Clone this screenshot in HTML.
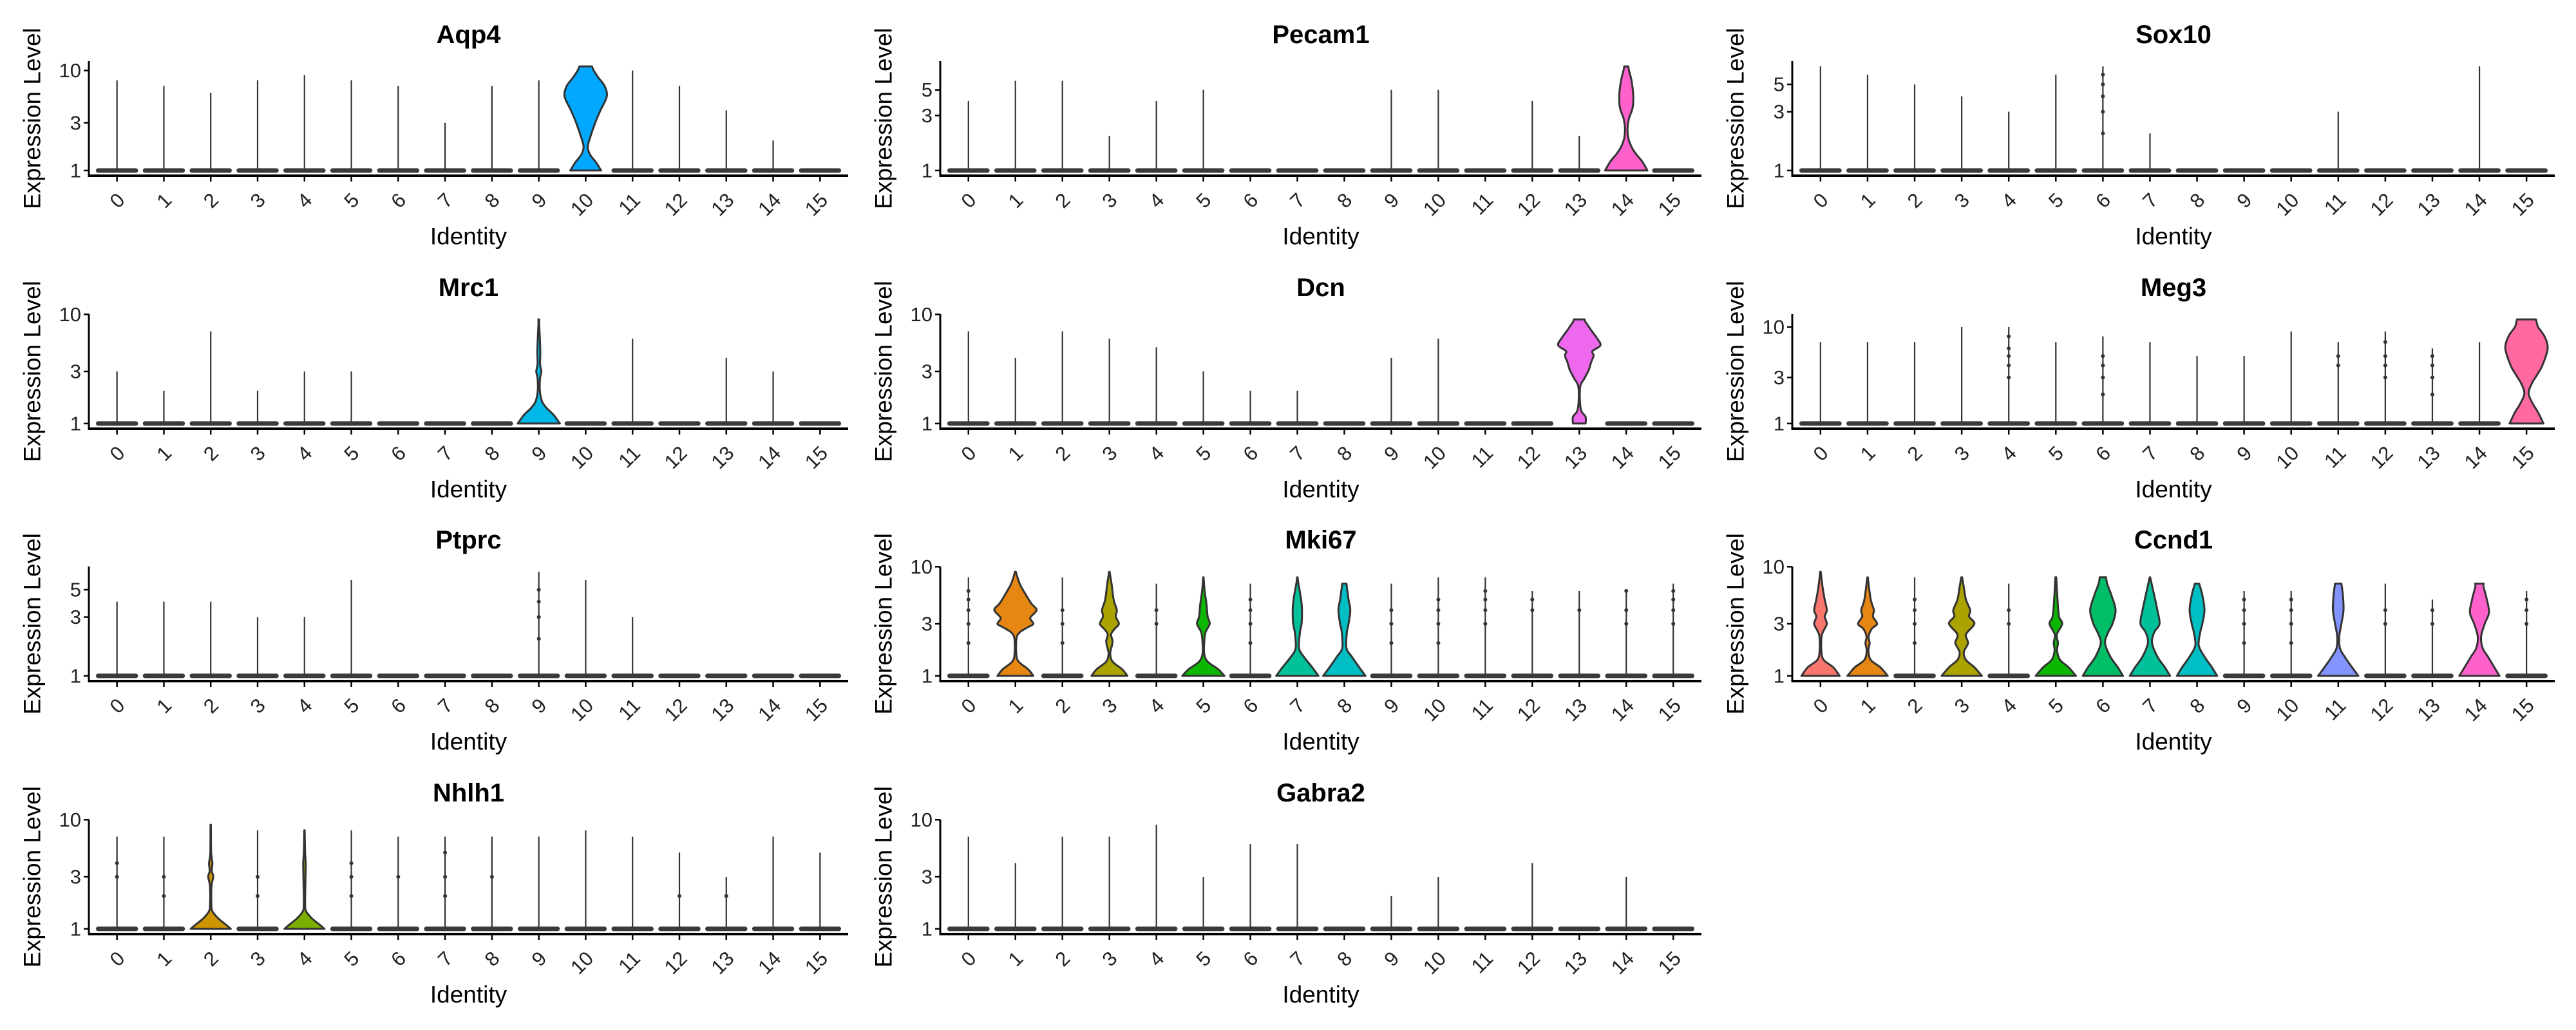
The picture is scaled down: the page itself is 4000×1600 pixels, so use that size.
<!DOCTYPE html>
<html><head><meta charset="utf-8"><style>
html,body{margin:0;padding:0;background:#fff;}
svg{display:block;font-family:"Liberation Sans",Arial,sans-serif;}
</style></head>
<body>
<svg id="fig" width="4000" height="1600" viewBox="0 0 4000 1600" xmlns="http://www.w3.org/2000/svg">
<rect x="0" y="0" width="4000" height="1600" fill="#ffffff"/>
</svg>
<script>
// ---- data ----
const CLUSTERS = ["0","1","2","3","4","5","6","7","8","9","10","11","12","13","14","15"];
const PALETTE = ["#F8766D","#E68613","#CD9600","#ABA300","#7CAE00","#0CB702","#00BE67","#00C19A","#00BFC4","#00B8E7","#00A9FF","#8494FF","#C77CFF","#ED68ED","#FF61CC","#FF68A1"];

const GENES = ["Aqp4","Pecam1","Sox10","Mrc1","Dcn","Meg3","Ptprc","Mki67","Ccnd1","Nhlh1","Gabra2"];

const AQP4_MAX   = [8,7,6,8,9,8,7,3,7,8,11,10,7,4,2,1];
const PECAM1_MAX = [4,6,6,2,4,5,1,1,1,5,5,1,4,2,8,1];
const SOX10_MAX  = [7,6,5,4,3,6,7,2,1,1,1,3,1,1,7,1];
const MRC1_MAX   = [3,2,7,2,3,3,1,1,1,9,1,6,1,4,3,1];
const DCN_MAX    = [7,4,7,6,5,3,2,2,1,4,6,1,1,9,1,1];
const MEG3_MAX   = [7,7,7,10,10,7,8,7,5,5,9,7,9,6,7,12];
const PTPRC_MAX  = [4,4,4,3,3,6,1,1,1,7,6,3,1,1,1,1];
const MKI67_MAX  = [8,9,8,9,7,8,7,8,7,7,8,8,6,6,6,7];
const CCND1_MAX  = [9,8,8,8,7,8,8,8,7,6,6,7,7,5,7,6];
const NHLH1_MAX  = [7,7,9,8,8,8,7,7,7,7,8,7,5,3,7,5];
const GABRA2_MAX = [7,4,7,7,9,3,6,6,1,2,3,1,4,1,3,1];

const TICKS_10 = [1,3,10];
const TICKS_5  = [1,3,5];

// violin profiles: [value, relative width]
const AQP4_V10 = [[1,0.73],[1.2,0.5],[1.45,0.2],[1.73,0.1],[2.1,0.2],[3,0.45],[4,0.7],[5.5,1.0],[7,0.9],[8.5,0.6],[10,0.38],[11,0.3]];
const PECAM1_V14 = [[1,1.0],[1.2,0.75],[1.4,0.45],[1.6,0.25],[1.9,0.1],[2.3,0.06],[2.8,0.12],[3.5,0.3],[4.5,0.33],[6,0.25],[7.5,0.12],[8,0.1]];
const MRC1_V9 = [[1,1.0],[1.2,0.7],[1.4,0.35],[1.6,0.15],[2,0.05],[2.6,0.06],[3,0.12],[3.5,0.06],[4.5,0.07],[6,0.05],[8,0.02],[9,0.02]];
const DCN_V13 = [[1,0.3],[1.15,0.3],[1.3,0.1],[1.6,0.03],[2.2,0.05],[2.6,0.25],[3.1,0.45],[3.6,0.55],[4.2,0.68],[4.6,0.62],[5.2,1.0],[6,0.85],[7,0.6],[8.5,0.3],[9,0.25]];
const MEG3_V15 = [[1,0.8],[1.3,0.55],[1.6,0.3],[2.05,0.1],[2.6,0.25],[3.2,0.5],[4,0.75],[6,1.0],[8,0.85],[10,0.55],[12,0.45]];
const MKI67_V1 = [[1,0.85],[1.15,0.6],[1.35,0.15],[1.6,0.04],[2.2,0.05],[2.5,0.2],[2.8,0.6],[3,0.85],[3.4,0.7],[4,1.0],[4.6,0.75],[5.5,0.5],[7,0.2],[9,0.02]];
const MKI67_V3 = [[1,0.85],[1.15,0.6],[1.35,0.15],[1.6,0.04],[1.9,0.12],[2.1,0.15],[2.4,0.08],[2.7,0.25],[3,0.45],[3.5,0.3],[4,0.35],[5,0.2],[7,0.1],[9,0.01]];
const MKI67_V5 = [[1,1.0],[1.15,0.7],[1.35,0.2],[1.6,0.04],[2,0.04],[2.5,0.1],[3,0.3],[3.5,0.2],[4.5,0.15],[6,0.06],[8,0.01]];
const MKI67_V7 = [[1,1.0],[1.2,0.7],[1.5,0.3],[1.8,0.08],[2.5,0.12],[3,0.2],[4,0.22],[5,0.18],[7,0.05],[8,0.01]];
const MKI67_V8 = [[1,1.0],[1.2,0.7],[1.5,0.35],[1.8,0.1],[2.5,0.12],[3,0.2],[4,0.28],[5,0.2],[6.5,0.12],[7,0.1]];
const CCND1_V0 = [[1,0.9],[1.2,0.6],[1.4,0.15],[1.7,0.04],[2.3,0.05],[2.6,0.15],[3,0.3],[3.5,0.2],[4,0.3],[5,0.2],[6.5,0.1],[9,0.01]];
const CCND1_V1 = [[1,0.95],[1.2,0.6],[1.4,0.15],[1.7,0.04],[2,0.1],[2.3,0.05],[2.7,0.2],[3,0.45],[3.5,0.25],[4,0.3],[5,0.15],[8,0.01]];
const CCND1_V3 = [[1,0.95],[1.2,0.6],[1.4,0.2],[1.65,0.1],[2,0.3],[2.4,0.2],[3,0.6],[3.5,0.35],[4,0.4],[5,0.2],[6.5,0.1],[8,0.02]];
const CCND1_V5 = [[1,0.95],[1.2,0.6],[1.4,0.2],[1.7,0.06],[2,0.1],[2.4,0.05],[3,0.3],[3.5,0.15],[5,0.08],[8,0.02]];
const CCND1_V6 = [[1,0.95],[1.2,0.7],[1.5,0.35],[2,0.1],[2.5,0.25],[3,0.45],[4,0.6],[5.5,0.4],[7,0.2],[8,0.15]];
const CCND1_V7 = [[1,0.95],[1.2,0.7],[1.5,0.35],[2,0.1],[2.5,0.2],[3,0.45],[4,0.35],[5.5,0.2],[8,0.01]];
const CCND1_V8 = [[1,0.95],[1.2,0.7],[1.5,0.35],[1.9,0.08],[2.5,0.15],[3,0.25],[4,0.35],[5.5,0.25],[7,0.1]];
const CCND1_V11 = [[1,0.95],[1.2,0.65],[1.5,0.3],[1.8,0.08],[2.3,0.05],[3,0.15],[4,0.25],[5.5,0.22],[7,0.15]];
const CCND1_V14 = [[1,0.95],[1.2,0.7],[1.5,0.4],[1.8,0.15],[2.3,0.08],[3,0.25],[3.8,0.45],[5,0.35],[6.5,0.2],[7,0.2]];
const NHLH1_V2 = [[1,0.95],[1.1,0.7],[1.25,0.35],[1.45,0.08],[1.7,0.03],[2.5,0.04],[3,0.12],[3.4,0.05],[4,0.08],[5,0.02],[9,0.01]];
const NHLH1_V4 = [[1,0.95],[1.1,0.7],[1.25,0.35],[1.45,0.08],[1.7,0.03],[3,0.05],[4,0.06],[5,0.03],[8,0.01]];

// small point marks: [cluster, value]
const SOX10_DOTS = [[6,2],[6,3],[6,4],[6,5],[6,6]];
const MEG3_DOTS = [[4,3],[4,4],[4,5],[4,6],[4,8],[6,2],[6,3],[6,4],[6,5],[12,3],[12,4],[12,5],[12,7],[13,2],[13,3],[13,4],[13,5],[11,4],[11,5]];
const PTPRC_DOTS = [[9,2],[9,3],[9,4],[9,5]];
const MKI67_DOTS = [[0,2],[0,3],[0,4],[0,5],[0,6],[2,3],[2,4],[2,2],[4,3],[4,4],[6,2],[6,3],[6,4],[6,5],[9,2],[9,3],[9,4],[10,2],[10,3],[10,4],[10,5],[11,3],[11,4],[11,5],[11,6],[12,4],[12,5],[13,4],[14,3],[14,4],[14,6],[15,3],[15,4],[15,5],[15,6]];
const CCND1_DOTS = [[2,2],[2,3],[2,4],[2,5],[4,3],[4,4],[9,2],[9,3],[9,4],[9,5],[10,2],[10,3],[10,4],[10,5],[12,3],[12,4],[13,3],[13,4],[15,3],[15,4],[15,5]];
const NHLH1_DOTS = [[0,3],[0,4],[1,2],[1,3],[3,2],[3,3],[5,2],[5,3],[5,4],[6,3],[7,2],[7,3],[7,5],[8,3],[12,2],[13,2]];

const PANELS = [
  {gene:"Aqp4",   max:AQP4_MAX,   ticks:TICKS_10, violins:{10:AQP4_V10}, dots:[]},
  {gene:"Pecam1", max:PECAM1_MAX, ticks:TICKS_5,  violins:{14:PECAM1_V14}, dots:[]},
  {gene:"Sox10",  max:SOX10_MAX,  ticks:TICKS_5,  violins:{}, dots:SOX10_DOTS},
  {gene:"Mrc1",   max:MRC1_MAX,   ticks:TICKS_10, violins:{9:MRC1_V9}, dots:[]},
  {gene:"Dcn",    max:DCN_MAX,    ticks:TICKS_10, violins:{13:DCN_V13}, dots:[]},
  {gene:"Meg3",   max:MEG3_MAX,   ticks:TICKS_10, violins:{15:MEG3_V15}, dots:MEG3_DOTS},
  {gene:"Ptprc",  max:PTPRC_MAX,  ticks:TICKS_5,  violins:{}, dots:PTPRC_DOTS},
  {gene:"Mki67",  max:MKI67_MAX,  ticks:TICKS_10, violins:{1:MKI67_V1,3:MKI67_V3,5:MKI67_V5,7:MKI67_V7,8:MKI67_V8}, dots:MKI67_DOTS},
  {gene:"Ccnd1",  max:CCND1_MAX,  ticks:TICKS_10, violins:{0:CCND1_V0,1:CCND1_V1,3:CCND1_V3,5:CCND1_V5,6:CCND1_V6,7:CCND1_V7,8:CCND1_V8,11:CCND1_V11,14:CCND1_V14}, dots:CCND1_DOTS},
  {gene:"Nhlh1",  max:NHLH1_MAX,  ticks:TICKS_10, violins:{2:NHLH1_V2,4:NHLH1_V4}, dots:NHLH1_DOTS},
  {gene:"Gabra2", max:GABRA2_MAX, ticks:TICKS_10, violins:{}, dots:[]}
];

// ---- layout ----
const svg = document.getElementById('fig');
const NS = "http://www.w3.org/2000/svg";
const COL_X0 = [138, 1460, 2783];
const COL_X1 = [1317, 2642, 3967];
const ROW_AXIS = [273, 666, 1058, 1451];
const PLOT_H = 178;

function mk(tag, attrs, parent){
  const e = document.createElementNS(NS, tag);
  for (const k in attrs) e.setAttribute(k, attrs[k]);
  (parent||svg).appendChild(e);
  return e;
}

function catmull(pts){
  let d = "";
  for (let i=0;i<pts.length-1;i++){
    const p0 = pts[Math.max(0,i-1)], p1 = pts[i], p2 = pts[i+1], p3 = pts[Math.min(pts.length-1,i+2)];
    const c1x = p1[0]+(p2[0]-p0[0])/6, c1y = p1[1]+(p2[1]-p0[1])/6;
    const c2x = p2[0]-(p3[0]-p1[0])/6, c2y = p2[1]-(p3[1]-p1[1])/6;
    d += ` C${c1x.toFixed(1)},${c1y.toFixed(1)} ${c2x.toFixed(1)},${c2y.toFixed(1)} ${p2[0].toFixed(1)},${p2[1].toFixed(1)}`;
  }
  return d;
}

PANELS.forEach((p, idx) => {
  const row = Math.floor(idx/3), col = idx%3;
  const x0 = COL_X0[col], x1 = COL_X1[col];
  const axisY = ROW_AXIS[row];
  const top = axisY - PLOT_H;
  const ymax = Math.max(...p.max);
  const dataH = PLOT_H/1.1, pad = (PLOT_H - dataH)/2;
  const yScale = v => axisY - pad - (Math.log10(v)/Math.log10(ymax))*dataH;
  const step = (x1 - x0)/(CLUSTERS.length + 0.2);
  const xScale = i => x0 + (i + 0.6)*step;
  const halfW = 0.45*step;

  const g = mk('g', {});
  
  

  const t = mk('text', {x:(x0+x1)/2, y:axisY-206, 'text-anchor':'middle', 'font-size':40, 'font-weight':'bold', fill:'#000'}, g);
  t.textContent = p.gene;
  
  

  const yt = mk('text', {x:0, y:0, 'text-anchor':'middle', 'dominant-baseline':'central', 'font-size':37, fill:'#000',
    transform:`translate(${x0-88},${top+PLOT_H/2}) rotate(-90)`}, g);
  yt.textContent = "Expression Level";
  
  

  const xt = mk('text', {x:(x0+x1)/2, y:axisY+94, 'text-anchor':'middle', 'dominant-baseline':'central', 'font-size':37, fill:'#000'}, g);
  xt.textContent = "Identity";
  
  

  CLUSTERS.forEach((c, i) => {
    const cx = xScale(i);
    const y1 = yScale(1);
    const prof = p.violins[i];
    if (prof){
      const right = prof.map(q => [cx + q[1]*halfW, yScale(q[0])]);
      const left = prof.map(q => [cx - q[1]*halfW, yScale(q[0])]).reverse();
      let d = `M${left[left.length-1][0].toFixed(1)},${y1.toFixed(1)} L${right[0][0].toFixed(1)},${right[0][1].toFixed(1)}`;
      d += catmull(right);
      d += ` L${left[0][0].toFixed(1)},${left[0][1].toFixed(1)}`;
      d += catmull(left);
      d += " Z";
      const v = mk('path', {d, fill:PALETTE[i], stroke:'#333', 'stroke-width':3, 'stroke-linejoin':'round'}, g);
      
      
    } else {
      const ln = mk('line', {x1:cx, x2:cx, y1:y1, y2:yScale(p.max[i]), stroke:'#333', 'stroke-width':2.2}, g);
      
      
      const b = mk('rect', {x:cx-halfW, y:y1-3.5, width:2*halfW, height:7, rx:3.5, fill:'#3a3a3a'}, g);
      
      
    }
  });
  p.dots.forEach(dt => {
    const dc = mk('circle', {cx:xScale(dt[0]), cy:yScale(dt[1]), r:3, fill:'#333'}, g);
    
    
  });

  const ya = mk('line', {x1:x0, x2:x0, y1:top, y2:axisY, stroke:'#000', 'stroke-width':3}, g);
  
  
  const xa = mk('line', {x1:x0-1.5, x2:x1, y1:axisY, y2:axisY, stroke:'#000', 'stroke-width':4}, g);
  
  

  p.ticks.forEach(tv => {
    const ty = yScale(tv);
    const tk = mk('line', {x1:x0-8, x2:x0, y1:ty, y2:ty, stroke:'#000', 'stroke-width':2.5}, g);
    
    
    const tl = mk('text', {x:x0-12, y:ty, 'text-anchor':'end', 'dominant-baseline':'central', 'font-size':31, fill:'#222'}, g);
    tl.textContent = String(tv);
    
    
  });

  CLUSTERS.forEach((c, i) => {
    const cx = xScale(i);
    const tk = mk('line', {x1:cx, x2:cx, y1:axisY, y2:axisY+9, stroke:'#000', 'stroke-width':2.5}, g);
    
    
    const ax = cx - 2, ay = axisY + 24;
    const tl = mk('text', {x:0, y:0, 'text-anchor':'end', 'dominant-baseline':'hanging', 'font-size':31, fill:'#222',
      transform:`translate(${ax},${ay}) rotate(-45)`}, g);
    tl.textContent = c;
    
    
  });
});
</script>
</body></html>
